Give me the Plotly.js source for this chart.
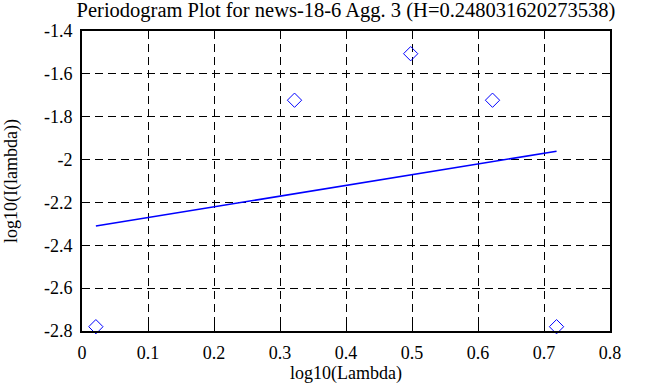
<!DOCTYPE html>
<html>
<head>
<meta charset="utf-8">
<script src="https://cdn.plot.ly/plotly-3.0.1.min.js"></script>
<style>html,body{margin:0;padding:0;background:#fff;}#chart{width:647px;height:387px;}</style>
</head>
<body>
<div id="chart"></div>
<script>
// Periodogram points (log10 lambda, log10 I(lambda))
const logLambda = [0.021, 0.322, 0.498, 0.622, 0.719];
const logI = [-2.78, -1.723, -1.506, -1.723, -2.78];
// Fitted regression line endpoints
const fitX = [0.021, 0.719];
const fitY = [-2.310, -1.961];
const xTicks = [0, 0.1, 0.2, 0.3, 0.4, 0.5, 0.6, 0.7, 0.8];
const xTickText = ['0', '0.1', '0.2', '0.3', '0.4', '0.5', '0.6', '0.7', '0.8'];
const yTicks = [-2.8, -2.6, -2.4, -2.2, -2, -1.8, -1.6, -1.4];
const yTickText = ['-2.8', '-2.6', '-2.4', '-2.2', '-2', '-1.8', '-1.6', '-1.4'];
const titleText = 'Periodogram Plot for news-18-6 Agg. 3 (H=0.248031620273538)';

const font = 'Liberation Serif';

const traces = [
  {
    x: logLambda, y: logI, type: 'scatter', mode: 'markers',
    marker: {symbol: 'diamond-open', size: 11, color: '#0000ff', line: {width: 1, color: '#0000ff'}},
    hoverinfo: 'none', cliponaxis: false
  },
  {
    x: fitX, y: fitY, type: 'scatter', mode: 'lines',
    line: {color: '#0000ff', width: 1.6},
    hoverinfo: 'none'
  }
];

function axis(extra) {
  return Object.assign({
    showline: true, linecolor: '#000', linewidth: 2, mirror: 'allticks',
    ticks: 'inside', ticklen: 6, tickwidth: 1, tickcolor: '#000',
    showgrid: true, gridcolor: '#000', gridwidth: 1, griddash: '8px,5px',
    zeroline: false, tickfont: {family: font, size: 18, color: '#000'},
    fixedrange: true, automargin: false
  }, extra);
}

const layout = {
  width: 647, height: 387,
  font: {family: font, size: 18, color: '#000'},
  margin: {l: 82, r: 37, t: 31, b: 56, pad: 0},
  paper_bgcolor: '#fff', plot_bgcolor: '#fff',
  showlegend: false,
  title: {text: titleText, font: {family: font, size: 20.5, color: '#000'},
          xref: 'paper', x: 0.5, xanchor: 'center', yref: 'container', y: 0.975, yanchor: 'middle'},
  xaxis: axis({
    range: [0, 0.8], tickvals: xTicks, ticktext: xTickText,
    ticklabelstandoff: 4,
    title: {text: 'log10(Lambda)', font: {family: font, size: 18, color: '#000'}, standoff: 4}
  }),
  yaxis: axis({
    range: [-2.8, -1.4], tickvals: yTicks, ticktext: yTickText,
    ticklabelstandoff: 4,
    title: {text: 'log10(I(lambda))', font: {family: font, size: 18, color: '#000'}, standoff: 22}
  })
};

Plotly.newPlot('chart', traces, layout, {staticPlot: true, displayModeBar: false});
</script>
</body>
</html>
